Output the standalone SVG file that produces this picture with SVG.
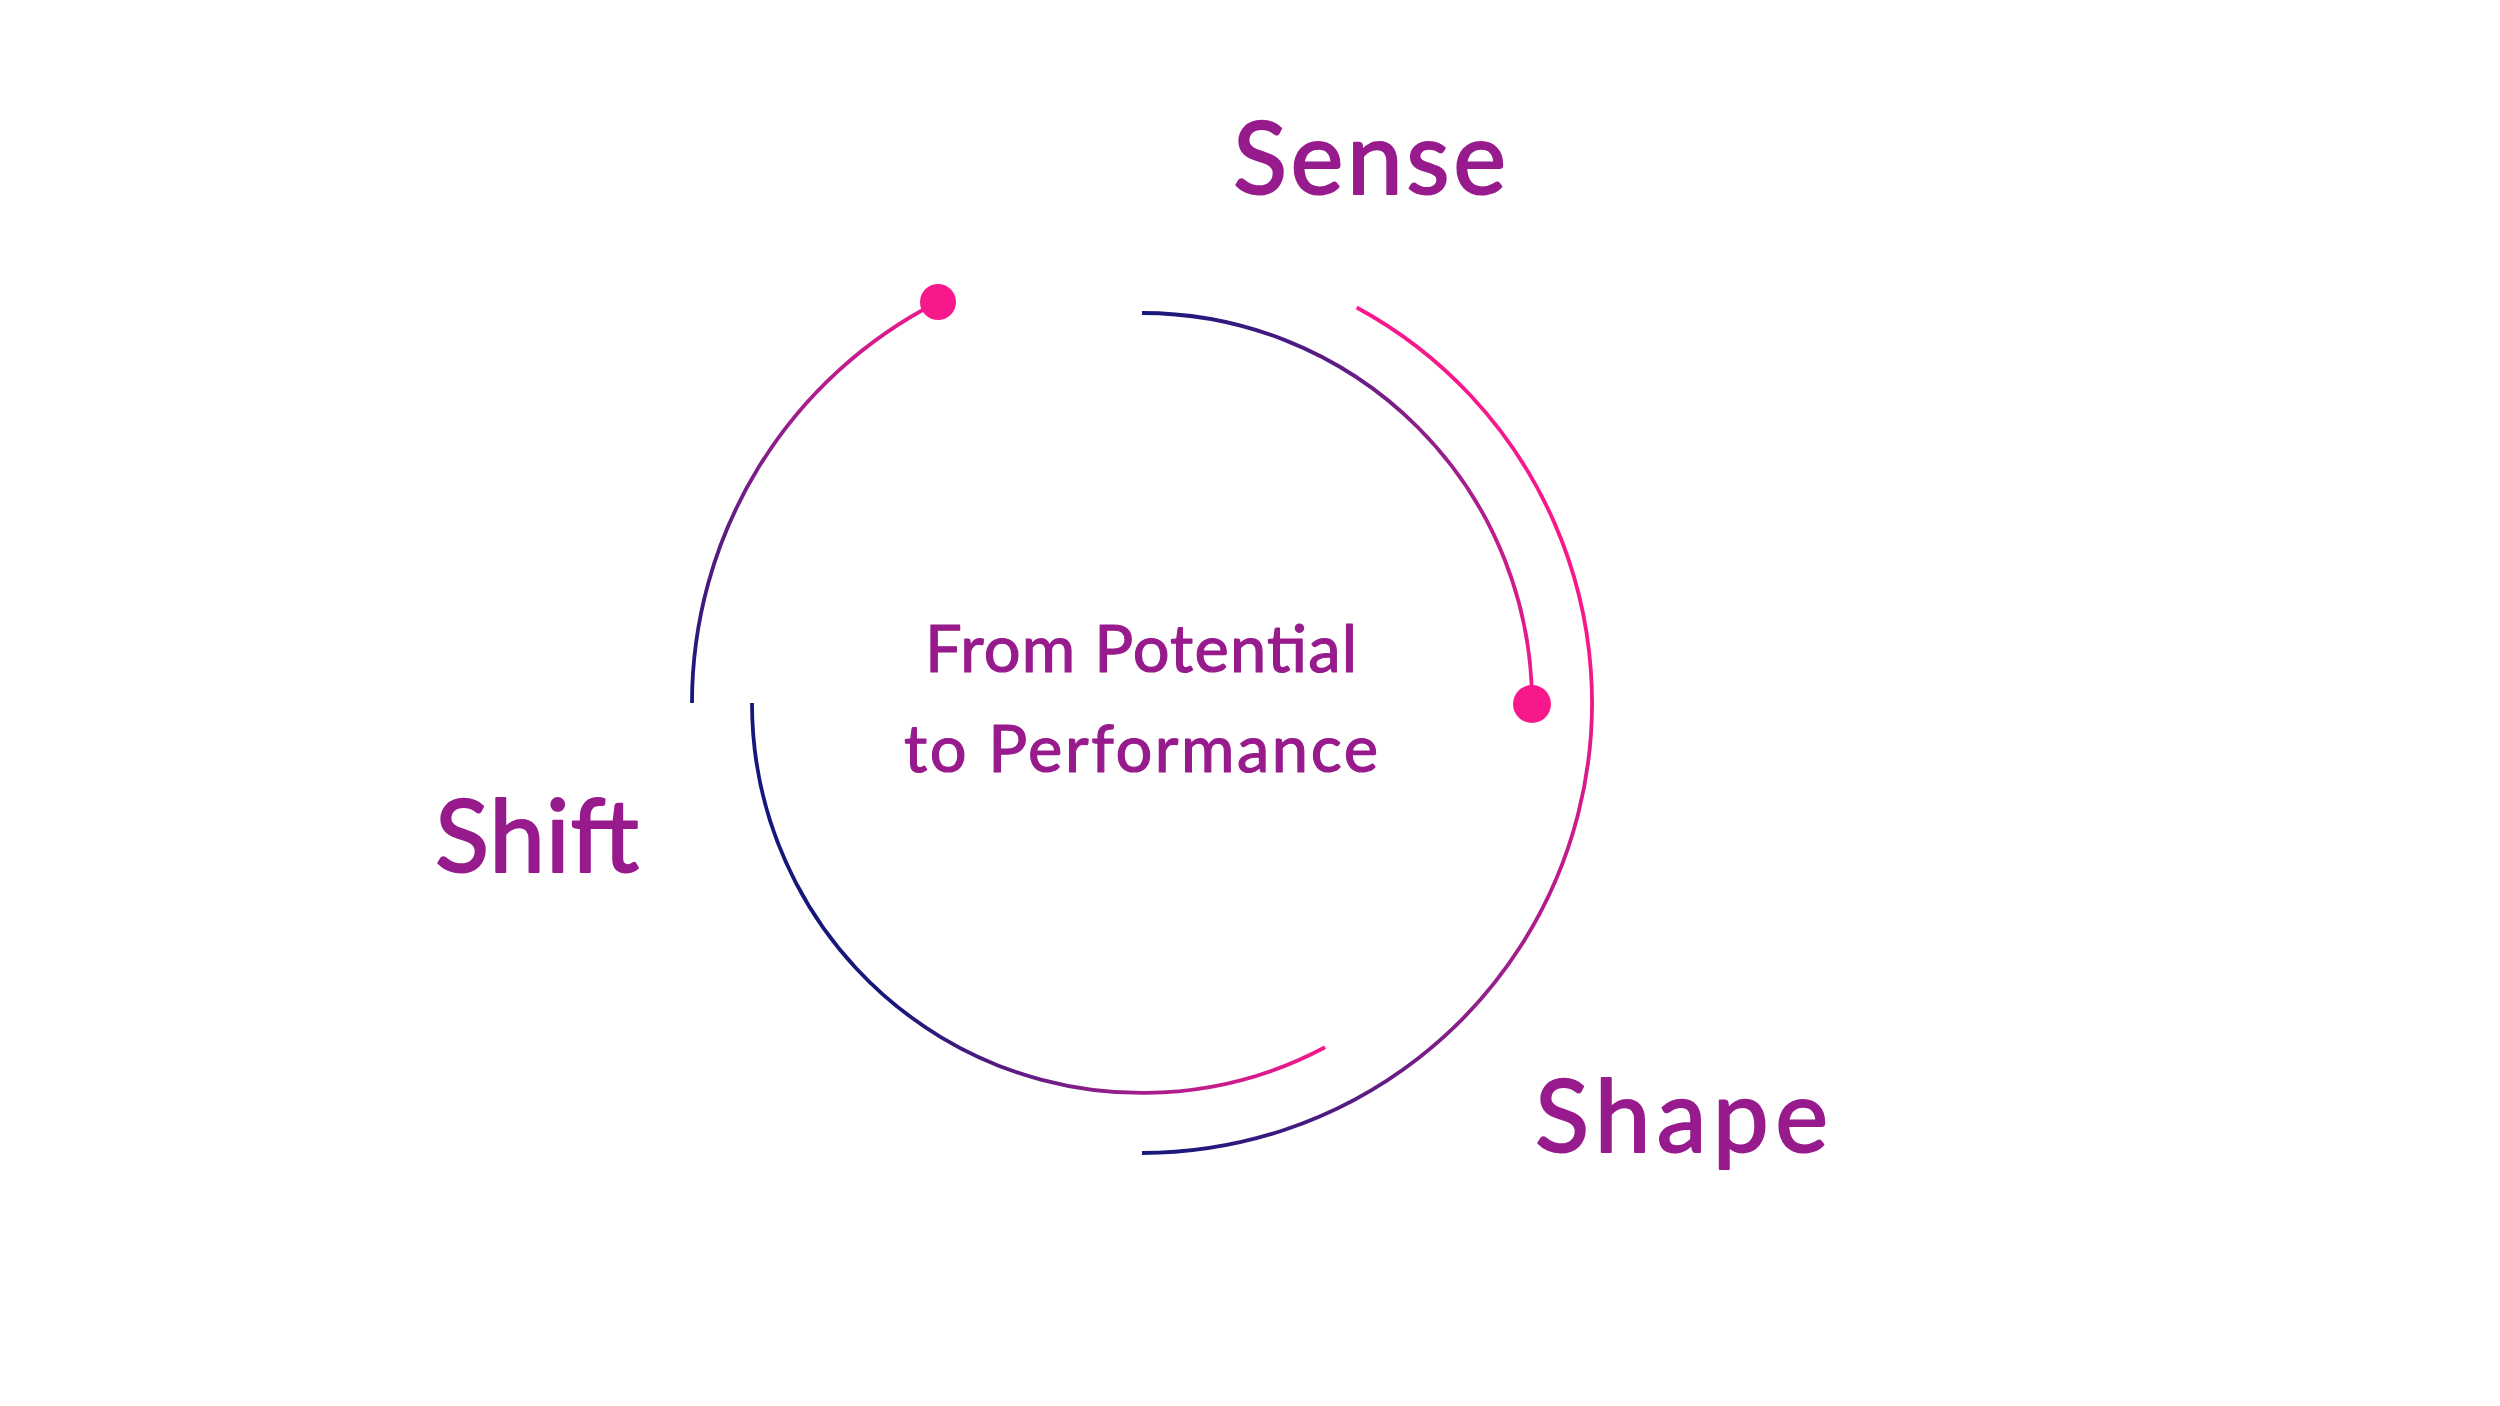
<svg xmlns="http://www.w3.org/2000/svg" width="2500" height="1406" viewBox="0 0 2500 1406">
<defs>
<linearGradient id="gA" gradientUnits="userSpaceOnUse" x1="1142" y1="313" x2="1532" y2="703"><stop offset="0" stop-color="#16177a"/><stop offset="0.5" stop-color="#8a1f8a"/><stop offset="1" stop-color="#f7198c"/></linearGradient>
<linearGradient id="gB" gradientUnits="userSpaceOnUse" x1="1560" y1="620" x2="1142" y2="1153"><stop offset="0" stop-color="#f7198c"/><stop offset="0.55" stop-color="#8a1f8a"/><stop offset="1" stop-color="#16177a"/></linearGradient>
<linearGradient id="gC" gradientUnits="userSpaceOnUse" x1="1325" y1="1047" x2="900" y2="960"><stop offset="0" stop-color="#f7198c"/><stop offset="0.5" stop-color="#8a1f8a"/><stop offset="1" stop-color="#16177a"/></linearGradient>
<linearGradient id="gD" gradientUnits="userSpaceOnUse" x1="692" y1="703" x2="938" y2="302"><stop offset="0" stop-color="#16177a"/><stop offset="0.55" stop-color="#8a1f8a"/><stop offset="1" stop-color="#f7198c"/></linearGradient>
</defs>
<style>
.arc{fill:none;stroke-width:3.8;stroke-linecap:butt}
.dot{fill:#f7198c}
.lbl{font-family:Lato,"Open Sans","DejaVu Sans",sans-serif;fill:#971b8c;stroke:#971b8c;stroke-width:2;stroke-linejoin:round;font-size:100px}
.ctr{font-family:Lato,"Open Sans","DejaVu Sans",sans-serif;fill:#971b8c;stroke:#971b8c;stroke-width:1.2;stroke-linejoin:round;font-size:65px;text-anchor:middle}
</style>
<rect width="2500" height="1406" fill="#ffffff"/>
<g id="connectors">
<path class="arc" stroke="url(#gA)" d="M 1142 313 A 390 390 0 0 1 1532 703"/>
<path class="arc" stroke="url(#gB)" d="M 1356.7 307.5 A 450 450 0 0 1 1142 1153"/>
<path class="arc" stroke="url(#gC)" d="M 1325.1 1047.3 A 390 390 0 0 1 752 703"/>
<path class="arc" stroke="url(#gD)" d="M 692 703 A 450 450 0 0 1 937.7 302"/>
<circle class="dot" cx="938" cy="302" r="18"/>
<circle class="dot" cx="1532" cy="704" r="19"/>
</g>
<g id="node-sense"><text class="lbl" x="1233" y="194" textLength="273">Sense</text></g>
<g id="node-shift"><text class="lbl" x="435" y="872" textLength="204">Shift</text></g>
<g id="node-shape"><text class="lbl" x="1535" y="1152" textLength="293">Shape</text></g>
<g id="node-center">
<text class="ctr" x="1141" y="672" textLength="432">From Potential</text>
<text class="ctr" x="1141" y="772" textLength="474">to Performance</text>
</g>
</svg>
